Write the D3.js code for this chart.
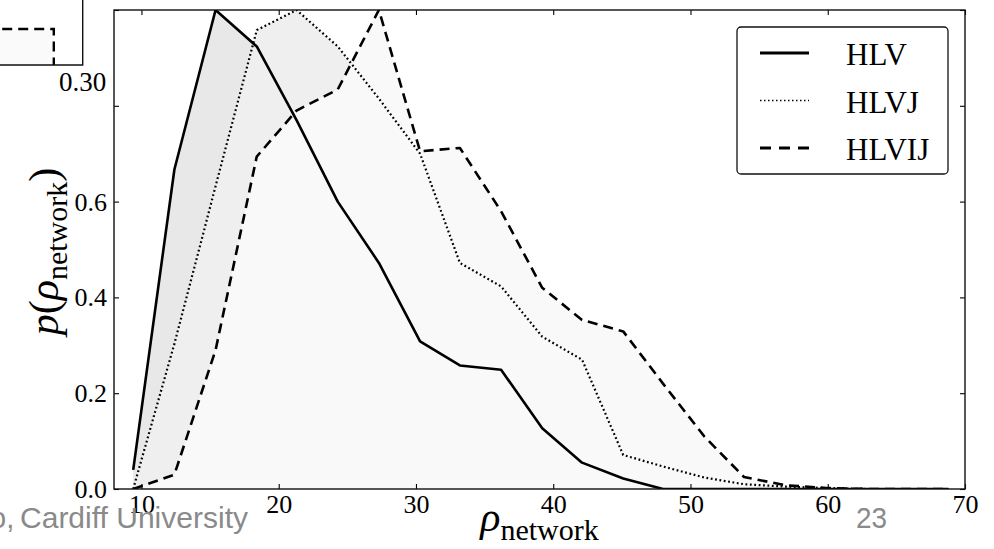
<!DOCTYPE html>
<html>
<head>
<meta charset="utf-8">
<script src="https://cdnjs.cloudflare.com/ajax/libs/d3/7.8.5/d3.min.js"></script>
<style>
  html, body { margin: 0; padding: 0; background: #fff; }
  svg { display: block; }
</style>
</head>
<body>
<svg id="chart" width="994" height="549"></svg>
<script>
// Network-density distributions for three detector configurations.
const rho     = [9.4, 12.4, 15.4, 18.4, 21.3, 24.3, 27.3, 30.3, 33.2, 36.2, 39.2, 42.1, 45.1, 48.0, 51.0, 53.9, 56.9, 59.9, 62.8, 65.8, 68.8];
const pHLV    = [0.04, 0.667, 1.0, 0.924, 0.77, 0.60, 0.472, 0.308, 0.258, 0.249, 0.127, 0.055, 0.022, 0, 0, 0, 0, 0, 0, 0, 0];
const pHLVJ   = [0.0, 0.303, 0.632, 0.958, 1.0, 0.924, 0.815, 0.70, 0.472, 0.423, 0.318, 0.27, 0.071, 0.047, 0.024, 0.01, 0.005, 0.002, 0, 0, 0];
const pHLVIJ  = [0.0, 0.03, 0.29, 0.694, 0.79, 0.834, 1.0, 0.705, 0.712, 0.58, 0.42, 0.353, 0.329, 0.22, 0.11, 0.025, 0.008, 0.002, 0, 0, 0];

const seriesNames = ["HLV", "HLVJ", "HLVIJ"];
const seriesValues = [pHLV, pHLVJ, pHLVIJ];

const xTicks = [10, 20, 30, 40, 50, 60, 70];
const yTicks = [0.0, 0.2, 0.4, 0.6, 0.8, 1.0];
// the two upper labels sit under the neighbouring panel and are left blank
const yTickLabels = ["0.0", "0.2", "0.4", "0.6", "", ""];

// Neighbouring panel, only its lower-right corner shows
const insetRho = [0.25, 0.29, 0.29];
const insetP   = [0.8, 0.8, 0.0];
const insetTickLabel = "0.30";

// Slide footer
const footerLeft = "o, Cardiff University";
const footerPage = "23";

// ---- styles ----
const styles = {
  HLV:   { fill: "#e8e8e8", width: 2.6, dash: null,      legendWidth: 3,   legendDash: null },
  HLVJ:  { fill: "#efefef", width: 2.2, dash: "1.8,2.6", legendWidth: 1.6, legendDash: "1.5,2.5" },
  HLVIJ: { fill: "#f9f9f9", width: 2.6, dash: "10,6",    legendWidth: 3,   legendDash: "11,8" }
};
const serif = "'Liberation Serif', 'Times New Roman', serif";

const svg = d3.select("#chart");
const plot = { left: 114, right: 965, top: 10, bottom: 489 };

const x = d3.scaleLinear().domain([8, 70]).range([plot.left, plot.right]);
const y = d3.scaleLinear().domain([0, 1]).range([plot.bottom, plot.top]);

svg.append("defs").append("clipPath").attr("id", "plotClip")
  .append("rect")
  .attr("x", plot.left).attr("y", plot.top)
  .attr("width", plot.right - plot.left).attr("height", plot.bottom - plot.top);

const series = seriesNames.map((name, i) => ({
  name,
  points: rho.map((r, j) => ({ r, p: seriesValues[i][j] }))
}));

const area = d3.area().x(d => x(d.r)).y0(y(0)).y1(d => y(d.p));
const line = d3.line().x(d => x(d.r)).y(d => y(d.p));

const g = svg.append("g").attr("clip-path", "url(#plotClip)");

// fills first, in drawing order, then outlines on top
g.selectAll("path.fill").data(series).join("path")
  .attr("class", "fill")
  .attr("d", d => area(d.points))
  .attr("fill", d => styles[d.name].fill)
  .attr("stroke", "none");

g.selectAll("path.line").data(series).join("path")
  .attr("class", "line")
  .attr("d", d => line(d.points))
  .attr("fill", "none")
  .attr("stroke", "#000")
  .attr("stroke-width", d => styles[d.name].width)
  .attr("stroke-dasharray", d => styles[d.name].dash)
  .attr("stroke-linejoin", "round");

// ---- axes: inward ticks on all four sides ----
const tickLen = 5;
const axisG = svg.append("g");

const axB = d3.axisBottom(x).tickValues(xTicks).tickSize(-tickLen).tickPadding(10).tickFormat(d3.format("d"));
const axT = d3.axisTop(x).tickValues(xTicks).tickSize(-tickLen).tickFormat("");
const axL = d3.axisLeft(y).tickValues(yTicks).tickSize(-tickLen).tickPadding(10).tickFormat((d, i) => yTickLabels[i]);
const axR = d3.axisRight(y).tickValues(yTicks).tickSize(-tickLen).tickFormat("");

function styleAxis(sel) {
  sel.select(".domain").remove();
  sel.selectAll(".tick line").attr("stroke", "#000").attr("stroke-width", 1.1);
  sel.selectAll(".tick text").attr("fill", "#000").style("font-family", serif).style("font-size", "26px");
}

const gB = axisG.append("g").attr("transform", `translate(0,${plot.bottom})`).call(axB).call(styleAxis);
axisG.append("g").attr("transform", `translate(0,${plot.top})`).call(axT).call(styleAxis);
const gL = axisG.append("g").attr("transform", `translate(${plot.left},0)`).call(axL).call(styleAxis);
axisG.append("g").attr("transform", `translate(${plot.right},0)`).call(axR).call(styleAxis);

axisG.selectAll(".tick text").attr("dy", null);
gB.selectAll(".tick text").attr("y", 24);
gL.selectAll(".tick text").attr("dominant-baseline", "central").attr("x", -7);
gL.selectAll(".tick text").filter(function () { return this.textContent === ""; }).remove();
axisG.selectAll(".tick text").filter(function () { return this.textContent === ""; }).remove();

// frame
svg.append("rect")
  .attr("x", plot.left).attr("y", plot.top)
  .attr("width", plot.right - plot.left).attr("height", plot.bottom - plot.top)
  .attr("fill", "none").attr("stroke", "#111").attr("stroke-width", 1.4);

// ---- axis titles ----
const xTitle = svg.append("text")
  .attr("x", (plot.left + plot.right) / 2)
  .attr("y", 531)
  .attr("text-anchor", "middle")
  .style("font-family", serif);
xTitle.append("tspan").style("font-size", "42px").style("font-style", "italic").text("ρ");
xTitle.append("tspan").style("font-size", "30px").attr("dy", 9).text("network");

const yTitle = svg.append("text")
  .attr("transform", `translate(58,${(plot.top + plot.bottom) / 2 + 2}) rotate(-90)`)
  .attr("text-anchor", "middle")
  .style("font-family", serif);
yTitle.append("tspan").style("font-size", "42px").style("font-style", "italic").text("p");
yTitle.append("tspan").style("font-size", "42px").text("(");
yTitle.append("tspan").style("font-size", "42px").style("font-style", "italic").text("ρ");
yTitle.append("tspan").style("font-size", "30px").attr("dy", 9).text("network");
yTitle.append("tspan").style("font-size", "42px").attr("dy", -9).text(")");

// ---- legend ----
const legend = svg.append("g").attr("transform", "translate(737,27)");
legend.append("rect")
  .attr("width", 211).attr("height", 147).attr("rx", 4).attr("ry", 4)
  .attr("fill", "#fff").attr("stroke", "#111").attr("stroke-width", 1.3);
const rowY = d3.scalePoint().domain(seriesNames).range([26, 121]);
const rows = legend.selectAll("g.row").data(series).join("g")
  .attr("class", "row")
  .attr("transform", d => `translate(0,${rowY(d.name)})`);
rows.append("line")
  .attr("x1", 23).attr("x2", 72)
  .attr("stroke", "#000")
  .attr("stroke-width", d => styles[d.name].legendWidth)
  .attr("stroke-dasharray", d => styles[d.name].legendDash);
rows.append("text")
  .attr("x", 109).attr("y", 12)
  .style("font-family", serif).style("font-size", "31px")
  .attr("fill", "#000")
  .text(d => d.name);

// ---- neighbouring panel corner ----
const inset = svg.append("g");
inset.append("rect").attr("x", 0).attr("y", 0).attr("width", 111).attr("height", 120).attr("fill", "#fff");
const ix = d3.scaleLinear().domain([0.27, 0.30]).range([-4, 82.7]);
const iy = d3.scaleLinear().domain([0, 1]).range([65, 20]);
const insetPts = insetRho.map((r, i) => ({ r, p: insetP[i] }));
inset.append("path")
  .attr("d", d3.area().x(d => ix(d.r)).y0(iy(0)).y1(d => iy(d.p))(insetPts))
  .attr("fill", "#fafafa");
inset.append("path")
  .attr("d", d3.line().x(d => ix(d.r)).y(d => iy(d.p))(insetPts))
  .attr("fill", "none").attr("stroke", "#000").attr("stroke-width", 2.4).attr("stroke-dasharray", "10,6");
inset.append("path")
  .attr("d", `M${ix(0.30)},0V${iy(0)}H0`)
  .attr("fill", "none").attr("stroke", "#111").attr("stroke-width", 1.4);
inset.append("text")
  .attr("x", ix(0.30)).attr("y", 91)
  .attr("text-anchor", "middle")
  .style("font-family", serif).style("font-size", "27px")
  .text(insetTickLabel);

// ---- slide footer ----
const footer = svg.append("g").attr("fill", "#8a8a8a").style("font-family", "'Liberation Sans', Arial, sans-serif");
footer.append("text").attr("x", -10).attr("y", 528).style("font-size", "29px").text(footerLeft.slice(0, 2));
footer.append("text").attr("x", 20).attr("y", 528).style("font-size", "29px")
  .attr("textLength", 228).attr("lengthAdjust", "spacingAndGlyphs")
  .text(footerLeft.slice(3));
footer.append("text").attr("x", 856).attr("y", 528).style("font-size", "29px")
  .attr("textLength", 31).attr("lengthAdjust", "spacingAndGlyphs")
  .text(footerPage);
</script>
</body>
</html>
